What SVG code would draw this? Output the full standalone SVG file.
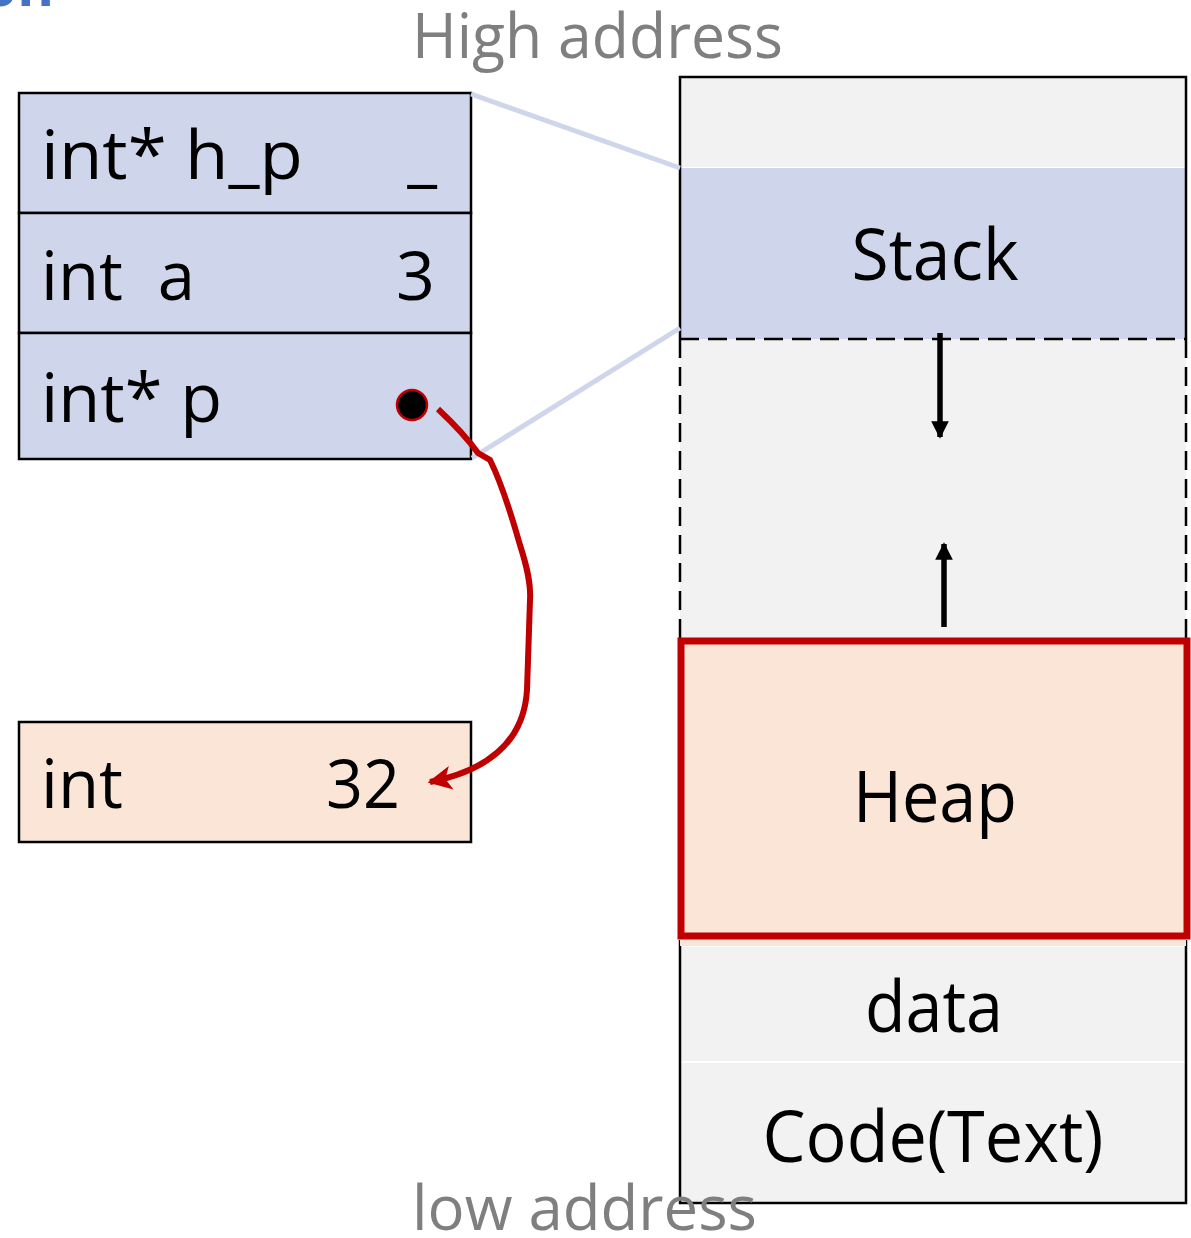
<svg xmlns="http://www.w3.org/2000/svg" width="1191" height="1238" viewBox="0 0 1191 1238">
<style>
text{font-family:"Open Sans","Noto Sans","Liberation Sans",sans-serif;fill:#000}
.lbl{font-size:68px}
.big{font-size:72px;text-anchor:middle}
.gray{font-size:62px;fill:#7F7F7F}
.blue{fill:#CFD5EA;stroke:#000;stroke-width:2.5}
.orange{fill:#FBE5D6;stroke:#000;stroke-width:2.5}
.seg{fill:#F2F2F2}
</style>
<defs>
<marker id="ah" viewBox="0 0 10 10" refX="9" refY="5" markerWidth="3.2" markerHeight="3.2" orient="auto" markerUnits="strokeWidth"><path d="M0,0 L10,5 L0,10 z" fill="#000"/></marker>
<marker id="rah" viewBox="0 0 10 10" refX="9" refY="5" markerWidth="4" markerHeight="4" orient="auto" markerUnits="strokeWidth"><path d="M0,0 L10,5 L0,10 L2.5,5 z" fill="#C00000"/></marker>
</defs>
<text x="54" y="6" text-anchor="end" style="font-size:56px;fill:#4472C4;font-weight:bold">on</text>
<text class="gray" x="412" y="58" textLength="371" lengthAdjust="spacingAndGlyphs">High address</text>

<g id="memory">
<g id="top-seg"><rect class="seg" x="680" y="77" width="506" height="90"/></g>
<g id="stack-seg"><rect x="680" y="168" width="506" height="171" fill="#CFD5EA"/>
<text class="big" x="935" y="280" textLength="167" lengthAdjust="spacingAndGlyphs">Stack</text></g>
<g id="free-seg"><rect class="seg" x="680" y="339" width="506" height="300"/>
<path d="M680,339 H1186 M680,339 V639 M1186,339 V639" fill="none" stroke="#000" stroke-width="2.5" stroke-dasharray="19 9"/></g>
<g id="data-seg"><rect class="seg" x="680" y="947" width="506" height="114"/>
<text class="big" x="934" y="1032" textLength="138" lengthAdjust="spacingAndGlyphs">data</text></g>
<g id="code-seg"><rect class="seg" x="680" y="1063" width="506" height="140"/>
<text class="big" x="933" y="1162" textLength="341" lengthAdjust="spacingAndGlyphs">Code(Text)</text></g>
<path d="M680,339 V77 H1186 V339 M680,940 V1203 H1186 V940" fill="none" stroke="#000" stroke-width="2.5"/>
<g id="heap-seg"><rect x="680" y="938" width="506" height="8" fill="#FBE5D6"/>
<rect x="681" y="641" width="506" height="295" fill="#FBE5D6" stroke="#C00000" stroke-width="7"/>
<text class="big" x="935" y="822" textLength="164" lengthAdjust="spacingAndGlyphs">Heap</text></g>
</g>
<text class="gray" x="412" y="1230" textLength="345" lengthAdjust="spacingAndGlyphs">low address</text>

<g id="frame">
<rect class="blue" x="19" y="93" width="452" height="120"/>
<text class="lbl" x="41" y="179" textLength="262" lengthAdjust="spacingAndGlyphs">int* h_p</text>
<text class="lbl" x="437" y="179" text-anchor="end">_</text>
<rect class="blue" x="19" y="213" width="452" height="120"/>
<text class="lbl" x="41" y="300" textLength="154" lengthAdjust="spacingAndGlyphs">int&#160; a</text>
<text class="lbl" x="435" y="300" text-anchor="end">3</text>
<rect class="blue" x="19" y="333" width="452" height="126"/>
<text class="lbl" x="41" y="422" textLength="181" lengthAdjust="spacingAndGlyphs">int* p</text>
<circle cx="412" cy="405" r="15" fill="#000" stroke="#C00000" stroke-width="2.5"/>
</g>
<g id="heap-int">
<rect class="orange" x="19" y="722" width="452" height="120"/>
<text class="lbl" x="41" y="808" textLength="82" lengthAdjust="spacingAndGlyphs">int</text>
<text class="lbl" x="400" y="808" text-anchor="end" textLength="74" lengthAdjust="spacingAndGlyphs">32</text>
</g>

<g id="connectors">
<line x1="471" y1="94" x2="680" y2="168" stroke="#CFD5EA" stroke-width="5"/>
<line x1="472" y1="458" x2="680" y2="328" stroke="#CFD5EA" stroke-width="5"/>
<line x1="940" y1="333" x2="940" y2="437" stroke="#000" stroke-width="5.5" marker-end="url(#ah)"/>
<line x1="944" y1="627" x2="944" y2="544" stroke="#000" stroke-width="5.5" marker-end="url(#ah)"/>
<path d="M438,409 C455,425 470,442 478,453 L490,460 C500,480 510,510 520,545 C528,570 531,585 530,600 L527,690 C524,740 490,770 430,782" fill="none" stroke="#C00000" stroke-width="6" marker-end="url(#rah)"/>
</g>
</svg>
